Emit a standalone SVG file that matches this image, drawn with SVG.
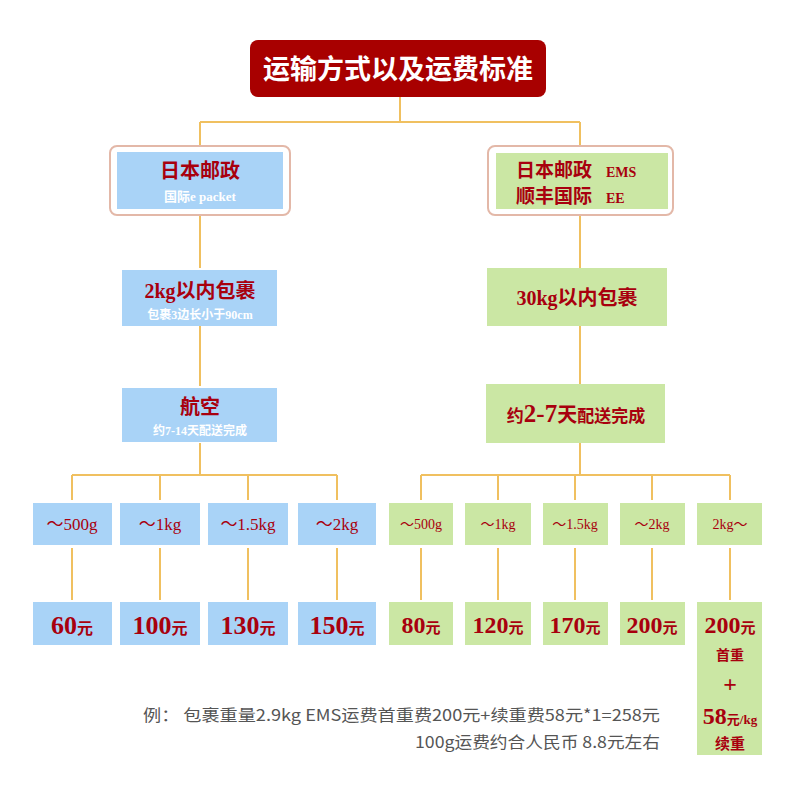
<svg xmlns="http://www.w3.org/2000/svg" width="800" height="800" viewBox="0 0 800 800">
<style>
.ln{stroke:#f0c060;stroke-width:2;fill:none}
.b{fill:#a9d3f7}.g{fill:#cbe7a4}
.t{font-family:"Liberation Serif","Noto Sans CJK SC",serif;font-weight:bold;fill:#a8000e;text-anchor:middle}
.n{font-weight:normal}
.s{font-family:"Noto Sans CJK SC","Liberation Sans",sans-serif;fill:#555;font-size:16px}
</style>
<rect width="800" height="800" fill="#fff"/>
<g id="connectors">
<path class="ln" d="M400,97V122M200,122H580M200,122V146M580,122V146M200,215V268M580,215V268M200,326V386M580,326V384M200,443V475M580,443V475M72,475H337M421,475H730"/>
<path class="ln" d="M72,475V500M160,475V500M248,475V500M337,475V500M421,475V500M498,475V500M575,475V500M652,475V500M730,475V500"/>
<path class="ln" d="M72,548V600M160,548V600M248,548V600M337,548V600M421,548V600M498,548V600M575,548V600M652,548V600M730,548V600"/>
</g>
<g id="title"><rect x="250" y="40" width="296" height="57" rx="8" fill="#a80000"/><text x="398" y="79" class="t" font-size="27" style="fill:#fff;font-family:'Noto Sans CJK SC',sans-serif">运输方式以及运费标准</text></g>
<g id="jp-post"><rect x="110" y="146" width="180" height="69" rx="7" fill="#fff" stroke="#e3b8a8" stroke-width="2"/><rect x="117" y="152" width="166" height="57" class="b"/><text x="200" y="178" class="t" font-size="20">日本邮政</text><text x="200" y="201" class="t" font-size="13" style="fill:#fff">国际e packet</text></g>
<g id="ems"><rect x="488" y="146" width="185" height="69" rx="7" fill="#fff" stroke="#e3b8a8" stroke-width="2"/><rect x="496" y="153" width="172" height="56" class="g"/><text x="516" y="177" class="t" font-size="19" style="text-anchor:start">日本邮政</text><text x="606" y="177" class="t" font-size="14" style="text-anchor:start">EMS</text><text x="516" y="203" class="t" font-size="19" style="text-anchor:start">顺丰国际</text><text x="606" y="203" class="t" font-size="14" style="text-anchor:start">EE</text></g>
<g id="l2"><rect x="122" y="270" width="155" height="56" class="b"/><text x="200" y="298" class="t" font-size="20">2kg以内包裹</text><text x="200" y="319" class="t" font-size="12" style="fill:#fff">包裹3边长小于90cm</text></g>
<g id="r2"><rect x="487" y="268" width="180" height="58" class="g"/><text x="577" y="305" class="t" font-size="20">30kg以内包裹</text></g>
<g id="l3"><rect x="122" y="388" width="155" height="54" class="b"/><text x="200" y="414" class="t" font-size="20">航空</text><text x="200" y="435" class="t" font-size="12" style="fill:#fff">约7-14天配送完成</text></g>
<g id="r3"><rect x="486" y="384" width="179" height="59" class="g"/><text x="576" y="422" class="t" font-size="17">约<tspan font-size="25">2-7</tspan><tspan font-size="20">天</tspan>配送完成</text></g>
<g id="w1"><rect x="33" y="503" width="79" height="42" class="b"/><text x="72" y="530" class="t n" font-size="17">～500g</text></g>
<g id="w2"><rect x="120" y="503" width="80" height="42" class="b"/><text x="160" y="530" class="t n" font-size="17">～1kg</text></g>
<g id="w3"><rect x="208" y="503" width="80" height="42" class="b"/><text x="248" y="530" class="t n" font-size="17">～1.5kg</text></g>
<g id="w4"><rect x="298" y="503" width="78" height="42" class="b"/><text x="337" y="530" class="t n" font-size="17">～2kg</text></g>
<g id="w5"><rect x="389" y="503" width="64" height="42" class="g"/><text x="421" y="529" class="t n" font-size="14">～500g</text></g>
<g id="w6"><rect x="465" y="503" width="66" height="42" class="g"/><text x="498" y="529" class="t n" font-size="14">～1kg</text></g>
<g id="w7"><rect x="543" y="503" width="65" height="42" class="g"/><text x="575" y="529" class="t n" font-size="14">～1.5kg</text></g>
<g id="w8"><rect x="620" y="503" width="65" height="42" class="g"/><text x="652" y="529" class="t n" font-size="14">～2kg</text></g>
<g id="w9"><rect x="697" y="503" width="65" height="42" class="g"/><text x="730" y="529" class="t n" font-size="14">2kg～</text></g>
<g id="p1"><rect x="33" y="602" width="79" height="43" class="b"/><text x="72" y="634" class="t" font-size="26">60<tspan font-size="16">元</tspan></text></g>
<g id="p2"><rect x="120" y="602" width="80" height="43" class="b"/><text x="160" y="634" class="t" font-size="26">100<tspan font-size="16">元</tspan></text></g>
<g id="p3"><rect x="208" y="602" width="80" height="43" class="b"/><text x="248" y="634" class="t" font-size="26">130<tspan font-size="16">元</tspan></text></g>
<g id="p4"><rect x="298" y="602" width="78" height="43" class="b"/><text x="337" y="634" class="t" font-size="26">150<tspan font-size="16">元</tspan></text></g>
<g id="p5"><rect x="389" y="602" width="64" height="43" class="g"/><text x="421" y="633" class="t" font-size="24">80<tspan font-size="15">元</tspan></text></g>
<g id="p6"><rect x="465" y="602" width="66" height="43" class="g"/><text x="498" y="633" class="t" font-size="24">120<tspan font-size="15">元</tspan></text></g>
<g id="p7"><rect x="543" y="602" width="65" height="43" class="g"/><text x="575" y="633" class="t" font-size="24">170<tspan font-size="15">元</tspan></text></g>
<g id="p8"><rect x="620" y="602" width="65" height="43" class="g"/><text x="652" y="633" class="t" font-size="24">200<tspan font-size="15">元</tspan></text></g>
<g id="p9"><rect x="697" y="602" width="65" height="153" class="g"/><text x="730" y="633" class="t" font-size="24">200<tspan font-size="15">元</tspan></text><text x="730" y="660" class="t" font-size="14">首重</text><text x="730" y="692" class="t" font-size="24">+</text><text x="730" y="724" class="t" font-size="24">58<tspan font-size="13">元/kg</tspan></text><text x="730" y="749" class="t" font-size="15">续重</text></g>
<g id="note"><text x="143" y="721" class="s" textLength="517" lengthAdjust="spacingAndGlyphs">例：  包裹重量2.9kg   EMS运费首重费200元+续重费58元*1=258元</text><text x="415" y="748" class="s" textLength="245" lengthAdjust="spacingAndGlyphs">100g运费约合人民币 8.8元左右</text></g>
</svg>
